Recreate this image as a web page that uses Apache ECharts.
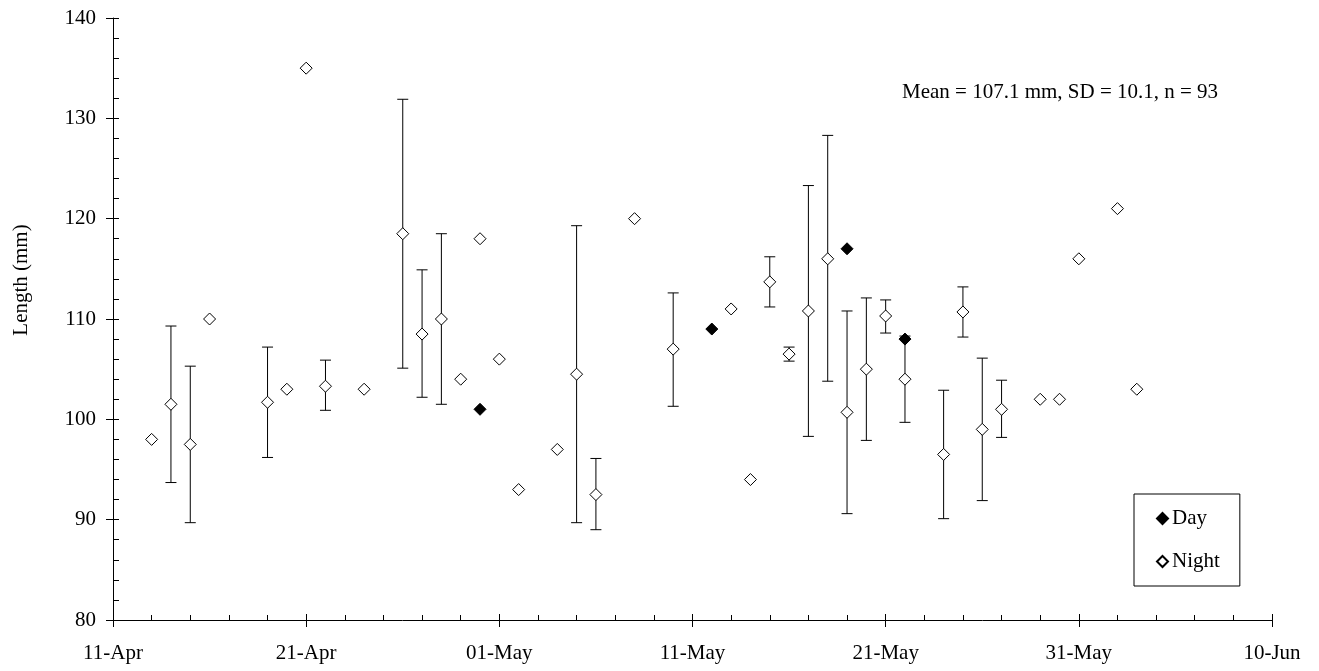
<!DOCTYPE html>
<html>
<head>
<meta charset="utf-8">
<script src="https://cdn.jsdelivr.net/npm/echarts@6/dist/echarts.min.js"></script>
<style>
html,body{margin:0;padding:0;background:#fff;}
#chart{width:1319px;height:671px;}
</style>
</head>
<body>
<div id="chart"></div>
<script>
// ---- data ----
const tickLabels = ['11-Apr','21-Apr','01-May','11-May','21-May','31-May','10-Jun'];
const nightDates = ['13-Apr','14-Apr','15-Apr','16-Apr','19-Apr','20-Apr','21-Apr','22-Apr','24-Apr','26-Apr','27-Apr','28-Apr','29-Apr','30-Apr','01-May','02-May','04-May','05-May','06-May','08-May','10-May','13-May','14-May','15-May','16-May','17-May','18-May','19-May','20-May','21-May','22-May','24-May','25-May','26-May','27-May','29-May','30-May','31-May','02-Jun','03-Jun'];
const nightMean = [98,101.5,97.5,110,101.7,103,135,103.3,103,118.5,108.5,110,104,118,106,93,97,104.5,92.5,120,107,111,94,113.7,106.5,110.8,116,100.7,105,110.3,104,96.5,110.7,99,101,102,102,116,121,103];
const nightLow = [null,93.7,89.7,null,96.2,null,null,100.9,null,105.1,102.2,101.5,null,null,null,null,null,89.7,89.0,null,101.3,null,null,111.2,105.8,98.3,103.8,90.6,97.9,108.6,99.7,90.1,108.2,91.9,98.2,null,null,null,null,null];
const nightHigh = [null,109.3,105.3,null,107.2,null,null,105.9,null,131.9,114.9,118.5,null,null,null,null,null,119.3,96.1,null,112.6,null,null,116.2,107.2,123.3,128.3,110.8,112.1,111.9,108.3,102.9,113.2,106.1,103.9,null,null,null,null,null];
const dayDates = ['30-Apr','12-May','19-May','22-May'];
const dayMean = [101,109,117,108];
const statsText = 'Mean = 107.1 mm, SD = 10.1, n = 93';

// ---- helpers ----
const MONTHS = {Apr:3, May:4, Jun:5};
function dayIndex(s){
  const [d,m] = s.split('-');
  return (Date.UTC(2000, MONTHS[m], +d) - Date.UTC(2000, 3, 11)) / 86400000;
}
const FONT = 'Liberation Serif';
const nightPts = nightDates.map((d,i)=>[dayIndex(d), nightMean[i]]);
const dayPts = dayDates.map((d,i)=>[dayIndex(d), dayMean[i]]);
const errPts = [];
nightDates.forEach((d,i)=>{ if(nightLow[i]!=null) errPts.push([dayIndex(d), nightLow[i], nightHigh[i]]); });

const chart = echarts.init(document.getElementById('chart'), null, {renderer:'canvas'});
const axisText = {color:'#000', fontFamily:FONT, fontSize:21};
const grid = {left:113, right:47, top:18, bottom:51};
chart.setOption({
  animation:false,
  backgroundColor:'#fff',
  grid: grid,
  xAxis:[{
    type:'value', min:0, max:60, interval:10,
    axisLine:{show:true, onZero:false, lineStyle:{color:'#000', width:1}},
    axisTick:{show:true, inside:false, length:7, lineStyle:{color:'#000'}},
    axisLabel:Object.assign({margin:23, formatter:v=>tickLabels[Math.round(v/10)]}, axisText),
    splitLine:{show:false}
  },{
    type:'value', min:0, max:60, interval:10, position:'bottom',
    axisLine:{show:false},
    axisTick:{show:true, inside:true, length:6, lineStyle:{color:'#000'}},
    minorTick:{show:true, splitNumber:5, length:5, lineStyle:{color:'#000'}},
    axisLabel:{show:false}, splitLine:{show:false}
  }],
  yAxis:[{
    type:'value', min:80, max:140, interval:10,
    axisLine:{show:true, onZero:false, lineStyle:{color:'#000', width:1}},
    axisTick:{show:true, inside:false, length:7, lineStyle:{color:'#000'}},
    axisLabel:Object.assign({margin:17}, axisText),
    splitLine:{show:false}
  },{
    type:'value', min:80, max:140, interval:10, position:'left',
    axisLine:{show:false},
    axisTick:{show:true, inside:true, length:6, lineStyle:{color:'#000'}},
    minorTick:{show:true, splitNumber:5, length:6, lineStyle:{color:'#000'}},
    axisLabel:{show:false}, splitLine:{show:false}
  }],
  legend:{
    orient:'vertical', left:1134, top:494,
    data:['Day','Night'],
    icon:'diamond', itemWidth:11, itemHeight:11, itemGap:22,
    borderColor:'#000', borderWidth:1, padding:[14,20,14,22],
    textStyle:{color:'#000', fontFamily:FONT, fontSize:21, padding:[0,0,0,-1]}
  },
  graphic:[{
    type:'text', left:902, top:82,
    style:{text:statsText, fill:'#000', font:'21px "Liberation Serif"'}
  },{
    type:'text', x:11, y:280, rotation:Math.PI/2,
    style:{text:'Length (mm)', fill:'#000', font:'21px "Liberation Serif"', align:'center', verticalAlign:'top'}
  }],
  series:[{
    name:'err', type:'custom', z:1,
    data:errPts,
    encode:{x:0, y:[1,2]},
    renderItem:function(params, api){
      const x = api.value(0);
      const lo = api.coord([x, api.value(1)]);
      const hi = api.coord([x, api.value(2)]);
      const w = 5.5;
      const st = {stroke:'#000', lineWidth:1};
      return {type:'group', children:[
        {type:'line', shape:{x1:lo[0], y1:lo[1], x2:hi[0], y2:hi[1]}, style:st},
        {type:'line', shape:{x1:lo[0]-w, y1:lo[1], x2:lo[0]+w, y2:lo[1]}, style:st},
        {type:'line', shape:{x1:hi[0]-w, y1:hi[1], x2:hi[0]+w, y2:hi[1]}, style:st}
      ]};
    }
  },{
    name:'Night', type:'scatter', z:3, symbol:'diamond', symbolSize:12,
    data:nightPts,
    itemStyle:{color:'#fff', borderColor:'#000', borderWidth:1, opacity:1}
  },{
    name:'Day', type:'scatter', z:4, symbol:'diamond', symbolSize:12,
    data:dayPts,
    itemStyle:{color:'#000', borderColor:'#000', borderWidth:1, opacity:1}
  }]
});
</script>
</body>
</html>
